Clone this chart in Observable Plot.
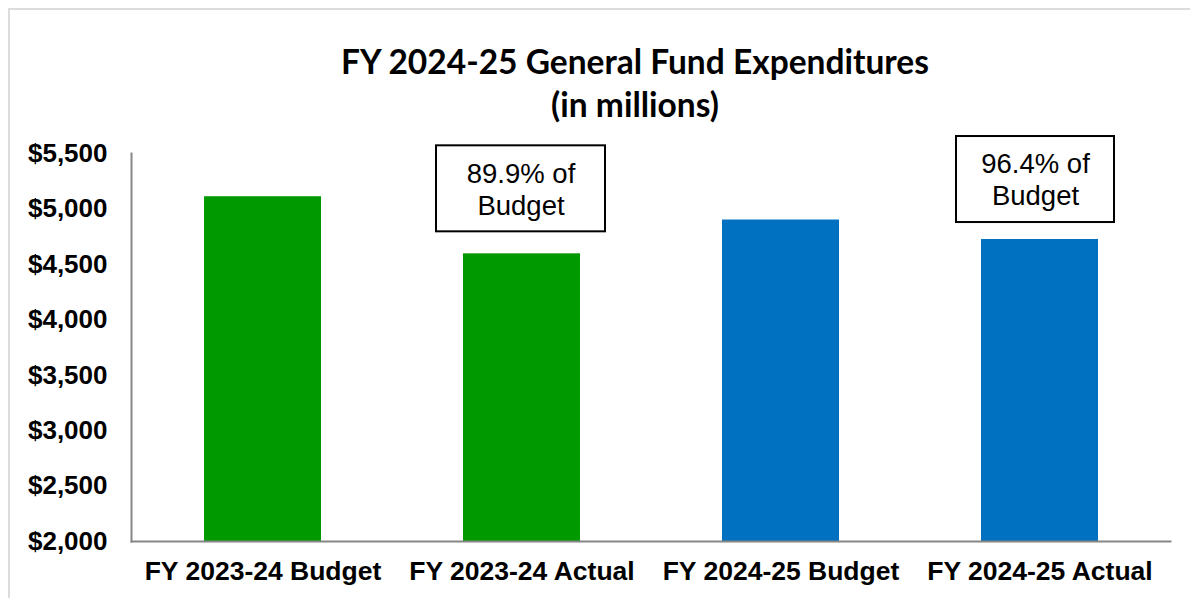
<!DOCTYPE html>
<html>
<head>
<meta charset="utf-8">
<script src="https://cdn.jsdelivr.net/npm/d3@7"></script>
<script src="https://cdn.jsdelivr.net/npm/@observablehq/plot@0.6"></script>
<style>
  html, body { margin: 0; padding: 0; background: #fff; }
  #wrap { position: relative; width: 1190px; height: 598px; overflow: hidden; background: #fff; }
  #border { position: absolute; left: 8px; top: 8px; right: 0; bottom: 0;
            border-left: 2px solid #dcdcdc; border-top: 2px solid #dcdcdc; }
  #title { position: absolute; left: 0; top: 40px; width: 1270px; text-align: center;
           font-family: Lato, "Open Sans", sans-serif; font-weight: bold; font-size: 33.5px;
           line-height: 43px; color: #000; }
  #plot { position: absolute; left: 0; top: 130px; }
  #plot svg { overflow: visible; }
</style>
</head>
<body>
<div id="wrap">
  <div id="border"></div>
  <div id="title">FY 2024-25 General Fund Expenditures<br>(in millions)</div>
  <div id="plot"></div>
</div>
<script>
// ---- data ----
const categories = ["FY 2023-24 Budget", "FY 2023-24 Actual", "FY 2024-25 Budget", "FY 2024-25 Actual"];
const expenditures = [5110, 4595, 4900, 4724];
const fiscalYear = ["FY 2023-24", "FY 2023-24", "FY 2024-25", "FY 2024-25"];
const yTicks = [2000, 2500, 3000, 3500, 4000, 4500, 5000, 5500];
// annotations: actual vs budget (compared categories)
const annotationActual = ["FY 2023-24 Actual", "FY 2024-25 Actual"];
const annotationBudget = ["FY 2023-24 Budget", "FY 2024-25 Budget"];

// ---- derived tables ----
const rows = categories.map((c, i) => ({category: c, value: expenditures[i], year: fiscalYear[i]}));
const valueOf = c => expenditures[categories.indexOf(c)];
const annotations = annotationActual.map((a, i) => {
  const pct = valueOf(a) / valueOf(annotationBudget[i]) * 100;
  return {category: a, value: valueOf(a), label: `${pct.toFixed(1)}% of\nBudget`};
});

// ---- styles (layout only) ----
const boxLayout = [
  {insetTop: -108, insetBottom: 22, insetLeft: -27, insetRight: -25, dx: -1, dy: -65},
  {insetTop: -103, insetBottom: 17, insetLeft: -25, insetRight: -16, dx: -4.5, dy: -61}
];
const fmt = d => "$" + d3.format(",")(d);

const marks = [
  Plot.barY(rows, {x: "category", y1: yTicks[0], y2: "value", fill: "year"}),
  Plot.frame({anchor: "left", stroke: "#868686", strokeWidth: 2}),
  Plot.frame({anchor: "bottom", stroke: "#868686", strokeWidth: 2}),
  Plot.axisY({ticks: yTicks, tickSize: 0, tickPadding: 24, tickFormat: fmt,
              fontSize: 26, fontWeight: "bold", fill: "#000"}),
  Plot.axisX({tickSize: 0, tickPadding: 20, fontSize: 26.5, fontWeight: "bold", fill: "#000"})
];
annotations.forEach((a, i) => {
  const L = boxLayout[i];
  marks.push(Plot.barY([a], {x: "category", y1: "value", y2: "value",
    insetTop: L.insetTop, insetBottom: L.insetBottom, insetLeft: L.insetLeft, insetRight: L.insetRight,
    fill: "#fff", stroke: "#000", strokeWidth: 2}));
  marks.push(Plot.text([a], {x: "category", y: "value", text: "label", dx: L.dx, dy: L.dy,
    fontSize: 27.5, lineHeight: 1.17, lineAnchor: "middle", fill: "#000"}));
});

const chart = Plot.plot({
  width: 1190,
  height: 468,
  marginTop: 23,
  marginBottom: 57,
  marginLeft: 131,
  marginRight: 20,
  style: {fontFamily: '"Liberation Sans", Arial, sans-serif', background: "transparent", color: "#000"},
  x: {domain: categories, paddingInner: 0.55, paddingOuter: 0.275, label: null, axis: null},
  y: {domain: [yTicks[0], yTicks[yTicks.length - 1]], label: null, axis: null},
  color: {domain: ["FY 2023-24", "FY 2024-25"], range: ["#009900", "#0070C0"]},
  marks
});
document.getElementById("plot").appendChild(chart);
</script>
</body>
</html>
